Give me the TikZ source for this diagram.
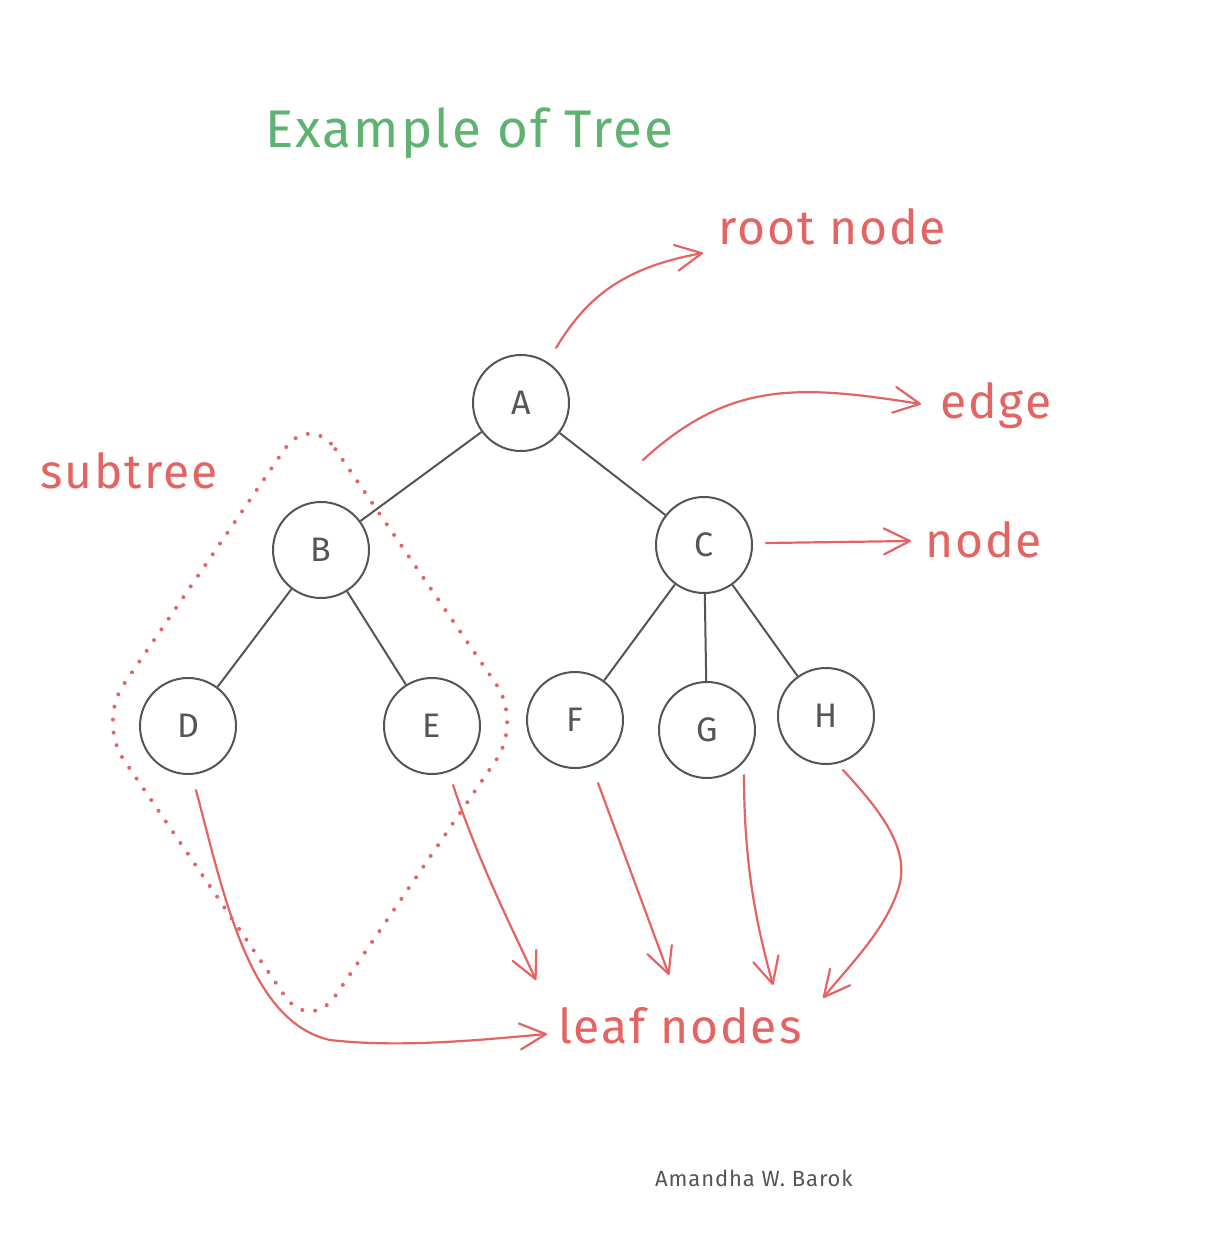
\documentclass[tikz,border=0pt]{standalone}
\usepackage{fontspec}
\setmainfont{Fira Sans}[LetterSpace=4]
\usepackage{xcolor}
\usetikzlibrary{
  arrows.meta,
  positioning,
  calc
}

\definecolor{inkgray}{RGB}{85,85,85}
\definecolor{inkred}{RGB}{228,100,100}
\definecolor{inkgreen}{RGB}{94,178,114}

\begin{document}
\begin{tikzpicture}[
  x=1pt, y=-1pt,
  vertex/.style={circle, draw=inkgray, line width=2pt, minimum size=96pt, inner sep=0pt, text=inkgray, font=\fontsize{34}{40}\selectfont},
  branch/.style={draw=inkgray, line width=2pt},
  note/.style={anchor=base west, inner sep=0pt, text=inkred, font=\fontsize{48}{56}\selectfont},
  pointer/.style={draw=inkred, line width=2.2pt, line cap=round, -{Straight Barb[length=26pt, width=26pt, line width=2.2pt, round]}},
  subtreebox/.style={draw=inkred, line width=4pt, line cap=round, dash pattern=on 0pt off 13pt, rounded corners=45pt}
]
  \useasboundingbox (0,0) rectangle (1208,1240);
  \fill[white] (0,0) rectangle (1208,1240);

  % title
  \node[anchor=base west, inner sep=0pt, text=inkgreen, font=\fontsize{53}{60}\selectfont] (title) at (265,147) {Example of Tree};

  % tree nodes
  \node[vertex] (A) at (521,403) {A};
  \node[vertex] (B) at (321,550) {B};
  \node[vertex] (C) at (704,545) {C};
  \node[vertex] (D) at (188,726) {D};
  \node[vertex] (E) at (432,726) {E};
  \node[vertex] (F) at (575,720) {F};
  \node[vertex] (G) at (707,730) {G};
  \node[vertex] (H) at (826,716) {H};

  % edges
  \draw[branch] (A) -- (B);
  \draw[branch] (A) -- (C);
  \draw[branch] (B) -- (D);
  \draw[branch] (B) -- (E);
  \draw[branch] (C) -- (F);
  \draw[branch] (C) -- (G);
  \draw[branch] (C) -- (H);

  % subtree outline
  \draw[subtreebox] (310,412) -- (522,722) -- (310,1033) -- (98,722) -- cycle;

  % labels
  \node[note] (root) at (718,244) {root node};
  \node[note] (edge) at (940,418) {edge};
  \node[note] (nodelab) at (925,557) {node};
  \node[note] (subtree) at (40,488) {subtree};
  \node[note] (leaf) at (558,1043) {leaf nodes};
  \node[anchor=base west, inner sep=0pt, text=inkgray, font=\fontsize{22}{26}\selectfont] (author) at (655,1186) {Amandha W. Barok};

  % arrow ends
  \coordinate (rootTail) at (556,348);
  \coordinate (rootTip) at (703,253);
  \coordinate (edgeTail) at (643,460);
  \coordinate (edgeTip) at (921,404);
  \coordinate (nodeTail) at (766,543);
  \coordinate (nodeTip) at (911,541);
  \coordinate (dTail) at (196,790);
  \coordinate (dTip) at (547,1034);
  \coordinate (eTail) at (453,785);
  \coordinate (eTip) at (536,980);
  \coordinate (fTail) at (598,783);
  \coordinate (fTip) at (669,975);
  \coordinate (gTail) at (744,775);
  \coordinate (gTip) at (773,985);
  \coordinate (hTail) at (843,770);
  \coordinate (hTip) at (823,998);

  % annotation arrows
  \draw[pointer] (rootTail) .. controls (585,300) and (620,268) .. (rootTip);
  \draw[pointer] (edgeTail) .. controls (730,380) and (800,385) .. (edgeTip);
  \draw[pointer] (nodeTail) -- (nodeTip);
  \draw[pointer] (dTail) .. controls (225,900) and (250,1022) .. (330,1040) .. controls (400,1048) and (480,1040) .. (dTip);
  \draw[pointer] (eTail) .. controls (478,860) and (508,920) .. (eTip);
  \draw[pointer] (fTail) -- (fTip);
  \draw[pointer] (gTail) .. controls (744,870) and (758,930) .. (gTip);
  \draw[pointer] (hTail) .. controls (880,810) and (912,850) .. (898,890) .. controls (885,930) and (850,965) .. (hTip);

\end{tikzpicture}
\end{document}
